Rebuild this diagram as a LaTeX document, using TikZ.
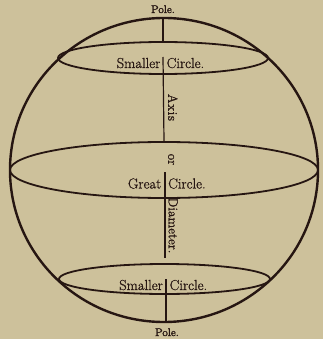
\documentclass[tikz,border=0pt]{standalone}
\usepackage{tikz}
\usepackage{fontspec}
\newfontfamily\heavyfont{Latin Modern Roman}[FakeBold=0.9]
\newfontfamily\polefont{Latin Modern Roman}[FakeBold=1.8]
\definecolor{paper}{RGB}{205,193,155}
\definecolor{ink}{RGB}{38,22,18}
\begin{document}
\begin{tikzpicture}[x=1pt,y=-1pt,
  outer/.style={draw=ink,line width=2.4pt},
  ring/.style={draw=ink,line width=1.8pt},
  axisline/.style={draw=ink,line width=1.2pt},
  lbl/.style={text=ink,inner sep=0pt,font=\heavyfont\fontsize{14.5}{16}\selectfont},
  polelbl/.style={text=ink,inner sep=0pt,font=\polefont\fontsize{11}{12}\selectfont},
  vlbl/.style={text=ink,inner sep=0pt,rotate=-90,anchor=south,text height=0.7em,text depth=0pt,
    font=\heavyfont\fontsize{13.2}{15}\selectfont}]
\fill[paper] (0,0) rectangle (323,339);
\useasboundingbox (0,0) rectangle (323,339);
% sphere and circles
\draw[outer] (164,170) ellipse [x radius=154, y radius=152];
\draw[ring] (164,170) ellipse [x radius=154, y radius=28];
\draw[ring] (163,58) ellipse [x radius=105, y radius=16];
\draw[ring] (164.5,279) ellipse [x radius=105.5, y radius=15];
% axis points
\coordinate (ptop) at (163,18);
\coordinate (sup) at (163,42);
\coordinate (sepA) at (163,57);
\coordinate (gup) at (164,141);
\coordinate (sepB) at (165,172);
\coordinate (bup) at (165,258);
\coordinate (sepC) at (166,279);
\coordinate (pbot) at (166,322);
\draw[axisline] (ptop) -- (sup);
\draw[axisline] (sepA) -- (gup);
\draw[axisline] (sepB) -- (bup);
\draw[axisline] (sepC) -- (pbot);
% labels
\node[polelbl,anchor=base] (poleT) at (163,13) {Pole.};
\node[polelbl,anchor=base] (poleB) at (167,336) {Pole.};
\node[lbl,anchor=base east] (sm1) at (160.5,68) {Smaller};
\node[lbl,anchor=base west] (ci1) at (166.5,68) {Circle.};
\node[lbl,anchor=base east] (gr) at (161.5,188.5) {Great};
\node[lbl,anchor=base west] (ci2) at (168,188.5) {Circle.};
\node[lbl,anchor=base east] (sm2) at (163,290) {Smaller};
\node[lbl,anchor=base west] (ci3) at (169.5,290) {Circle.};
\node[vlbl] (ax) at (168,107.5) {A\kern0.6pt x\kern0.6pt i\kern0.6pt s};
\node[vlbl] (or) at (168,159.5) {or};
\node[vlbl] (dia) at (168.5,225.5) {Diameter.};
\end{tikzpicture}
\end{document}
